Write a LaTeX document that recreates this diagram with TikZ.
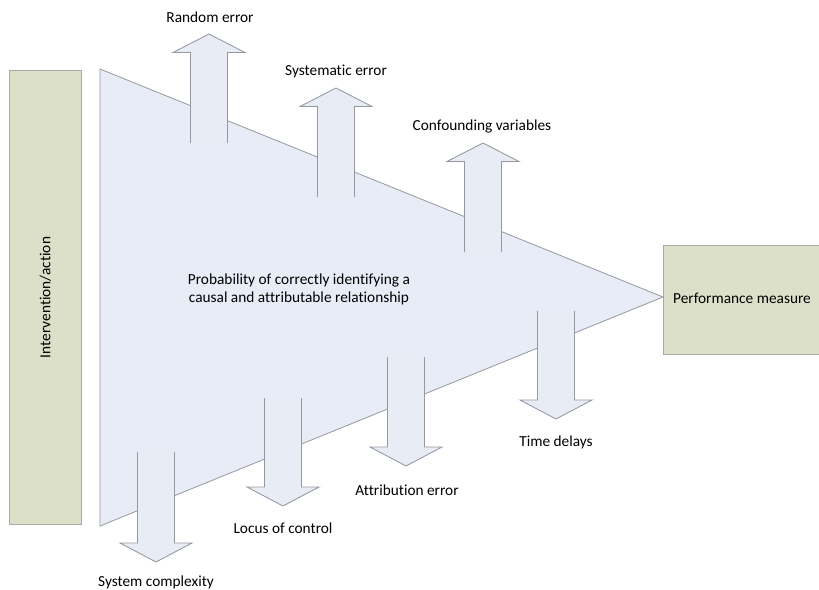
\documentclass[tikz,border=0pt]{standalone}
\usepackage{fontspec}
\setmainfont{Carlito}[Ligatures=NoCommon]
\definecolor{boxfill}{RGB}{221,224,200}
\definecolor{boxline}{RGB}{170,170,165}
\definecolor{trifill}{RGB}{231,236,246}
\definecolor{triline}{RGB}{150,152,160}
\definecolor{arrfill}{RGB}{232,237,245}
\tikzset{
  lbl/.style={font=\fontsize{11.5}{13.5}\selectfont, inner sep=0pt, align=center},
  sidebox/.style={draw=boxline, fill=boxfill, line width=0.75pt},
  funnel/.style={draw=triline, fill=trifill, line width=0.6pt},
  arrfillst/.style={fill=arrfill},
  arrline/.style={draw=triline, line width=0.65pt, line join=miter},
}
\begin{document}
\begin{tikzpicture}[x=0.75pt,y=-0.75pt]
\useasboundingbox (0,0) rectangle (819,590);
% left box
\node[sidebox, minimum width=72*0.75pt, minimum height=454*0.75pt, inner sep=0pt, anchor=north west] (interv) at (9,70) {};
\node[lbl, rotate=90] (intervtxt) at (interv.center) {Intervention/action};
% right box
\node[sidebox, minimum width=160*0.75pt, minimum height=109*0.75pt, inner sep=0pt, anchor=north west] (perf) at (663,245) {};
\node[lbl] (perftxt) at (742,298) {Performance measure};
% funnel
\coordinate (ftop) at (100,69);
\coordinate (fbot) at (100,526);
\coordinate (ftip) at (663,297);
\draw[funnel] (ftop) -- (ftip) -- (fbot) -- cycle;
\node[lbl] (prob) at (299,289) {Probability of correctly identifying a\\causal and attributable relationship};
% up arrows: center x, tip y, shaft bottom y
\foreach \cx/\ty/\sb [count=\i] in {209/34/143, 336/88/197, 483/143/252} {
  \pgfmathsetmacro{\hb}{\ty+18.5}
  \fill[arrfillst] (\cx-18.5,\sb) -- (\cx-18.5,\hb) -- (\cx-36,\hb) -- (\cx,\ty) -- (\cx+36,\hb) -- (\cx+18.5,\hb) -- (\cx+18.5,\sb) -- cycle;
  \draw[arrline] (\cx-18.5,\sb) -- (\cx-18.5,\hb) -- (\cx-36,\hb) -- (\cx,\ty) -- (\cx+36,\hb) -- (\cx+18.5,\hb) -- (\cx+18.5,\sb);
  \coordinate (up\i) at (\cx,\ty);
}
% down arrows: center x, shaft top y, tip y
\foreach \cx/\st/\ty [count=\i] in {156/452/562, 283/398/506, 406/357/466, 556/311/419} {
  \pgfmathsetmacro{\hb}{\ty-19}
  \fill[arrfillst] (\cx-18.5,\st) -- (\cx-18.5,\hb) -- (\cx-36,\hb) -- (\cx,\ty) -- (\cx+36,\hb) -- (\cx+18.5,\hb) -- (\cx+18.5,\st) -- cycle;
  \draw[arrline] (\cx-18.5,\st) -- (\cx-18.5,\hb) -- (\cx-36,\hb) -- (\cx,\ty) -- (\cx+36,\hb) -- (\cx+18.5,\hb) -- (\cx+18.5,\st);
  \coordinate (down\i) at (\cx,\ty);
}
% labels
\node[lbl] (l1) at (210,17) {Random error};
\node[lbl] (l2) at (336,71) {Systematic error};
\node[lbl] (l3) at (482,126) {Confounding variables};
\node[lbl] (l4) at (556,442) {Time delays};
\node[lbl] (l5) at (407,490) {Attribution error};
\node[lbl] (l6) at (283,528) {Locus of control};
\node[lbl] (l7) at (156,582) {System complexity};
\end{tikzpicture}
\end{document}
